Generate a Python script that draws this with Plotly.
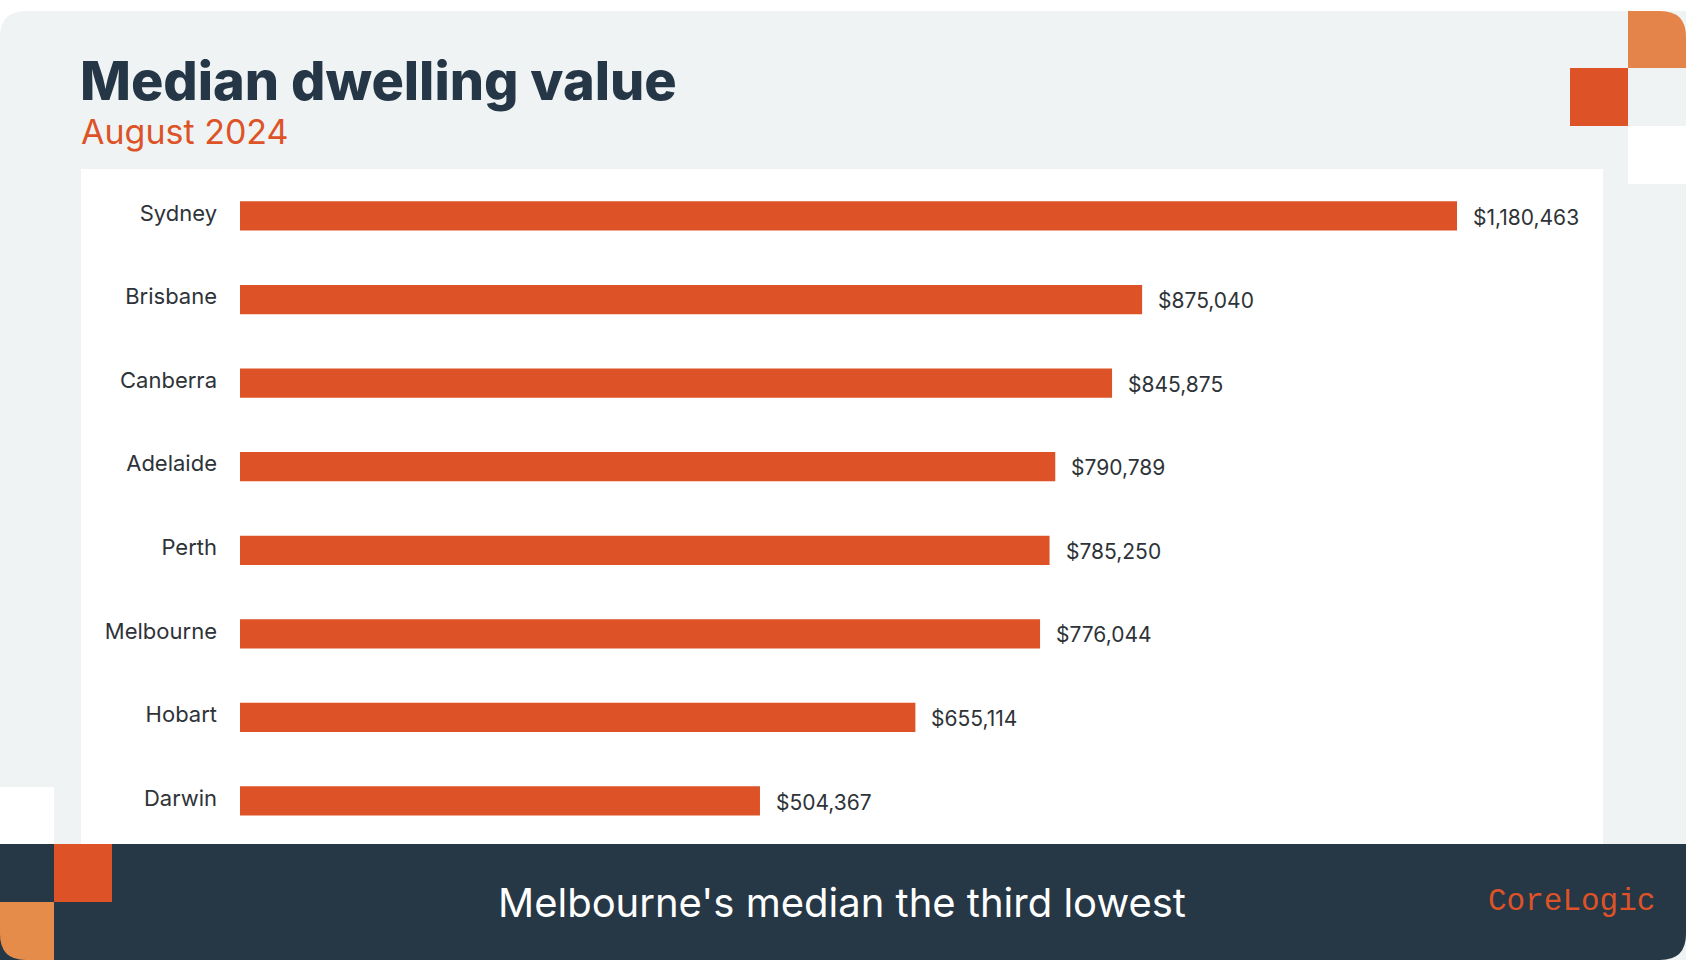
import plotly.graph_objects as go

cities = ["Sydney", "Brisbane", "Canberra", "Adelaide", "Perth", "Melbourne", "Hobart", "Darwin"]
values = [1180463, 875040, 845875, 790789, 785250, 776044, 655114, 504367]
value_labels = ["$1,180,463", "$875,040", "$845,875", "$790,789", "$785,250", "$776,044", "$655,114", "$504,367"]

title_text = "Median dwelling value"
subtitle_text = "August 2024"
footer_text = "Melbourne's median the third lowest"
brand_text = "CoreLogic"

W, H = 1686, 960
BAR = "#dd5227"
NAVY = "#263746"
GRAY = "#eff3f4"
LORANGE = "#e5844a"
FONT = "Inter, Open Sans, sans-serif"


def px(x):
    return x / W


def py(y):
    return 1 - y / H


fig = go.Figure()
fig.add_trace(go.Bar(
    x=values, y=cities, orientation="h",
    marker=dict(color=BAR, line=dict(width=0)),
    hoverinfo="skip",
))

for c, v, t in zip(cities, values, value_labels):
    fig.add_annotation(x=v, y=c, xref="x", yref="y", text=t, showarrow=False,
                       xanchor="left", yanchor="middle", xshift=14, yshift=-1,
                       font=dict(family=FONT, size=21, color="#2e3338"))

shapes = []


def rect(x0, y0, x1, y1, color):
    shapes.append(dict(type="rect", xref="paper", yref="paper",
                       x0=px(x0), x1=px(x1), y0=py(y1), y1=py(y0),
                       fillcolor=color, line=dict(width=0), layer="below"))


def rpath(points, color):
    shapes.append(dict(type="path", xref="paper", yref="paper", path=points,
                       fillcolor=color, line=dict(width=0), layer="below"))


r = 26
card = (f"M {px(0)},{py(11 + r)} Q {px(0)},{py(11)} {px(r)},{py(11)} "
        f"L {px(W)},{py(11)} L {px(W)},{py(H)} L {px(0)},{py(H)} Z")
rpath(card, GRAY)
rect(81, 169, 1603, 844, "#ffffff")
foot = (f"M {px(0)},{py(844)} L {px(W)},{py(844)} L {px(W)},{py(H - r)} "
        f"Q {px(W)},{py(H)} {px(W - r)},{py(H)} L {px(0)},{py(H)} Z")
rpath(foot, NAVY)
tr = (f"M {px(1628)},{py(11)} L {px(W - r)},{py(11)} Q {px(W)},{py(11)} {px(W)},{py(11 + r)} "
      f"L {px(W)},{py(68)} L {px(1628)},{py(68)} Z")
rpath(tr, LORANGE)
rect(1570, 68, 1628, 126, BAR)
rect(1628, 126, W, 184, "#ffffff")
rect(0, 787, 54, 844, "#ffffff")
rect(54, 844, 112, 902, BAR)
bl = (f"M {px(0)},{py(902)} L {px(54)},{py(902)} L {px(54)},{py(H)} L {px(r)},{py(H)} "
      f"Q {px(0)},{py(H)} {px(0)},{py(H - r)} Z")
rpath(bl, "#e68c4b")

fig.add_annotation(x=px(78), y=py(80), xref="paper", yref="paper", text=title_text,
                   showarrow=False, xanchor="left", yanchor="middle",
                   font=dict(family=FONT, size=54, color="#253746", weight=800))
fig.add_annotation(x=px(79), y=py(132), xref="paper", yref="paper", text=subtitle_text,
                   showarrow=False, xanchor="left", yanchor="middle",
                   font=dict(family=FONT, size=34, color="#dd5327"))
fig.add_annotation(x=px(842), y=py(902), xref="paper", yref="paper", text=footer_text,
                   showarrow=False, xanchor="center", yanchor="middle",
                   font=dict(family=FONT, size=40, color="#ffffff"))
fig.add_annotation(x=px(1657), y=py(901), xref="paper", yref="paper", text=brand_text,
                   showarrow=False, xanchor="right", yanchor="middle",
                   font=dict(family="Liberation Mono, DejaVu Sans Mono, monospace", size=31, color="#dd5327"))

x0px, x1px = 240, 1457
xmax = 1300000
xend = x0px + xmax * (x1px - x0px) / values[0]
ytop_c, ybot_c = 216, 801
step = (ybot_c - ytop_c) / 7
ytop = ytop_c - step / 2
ybot = ybot_c + step / 2

fig.update_layout(
    width=W, height=H,
    margin=dict(l=0, r=0, t=0, b=0),
    paper_bgcolor="#ffffff", plot_bgcolor="rgba(0,0,0,0)",
    showlegend=False,
    bargap=0.65,
    shapes=shapes,
    xaxis=dict(domain=[px(x0px), px(xend)], range=[0, xmax], visible=False, fixedrange=True),
    yaxis=dict(domain=[py(ybot), py(ytop)], range=[7.5, -0.5], type="category",
               showgrid=False, zeroline=False, showline=False, fixedrange=True,
               ticks="", ticklabelstandoff=22, ticklabelshift=3,
               tickfont=dict(family=FONT, size=22, color="#2e3338")),
)

fig.write_html("out.html", config={"displayModeBar": False, "staticPlot": True},
               post_script="document.body.style.margin='0px';document.body.style.overflow='hidden';")
